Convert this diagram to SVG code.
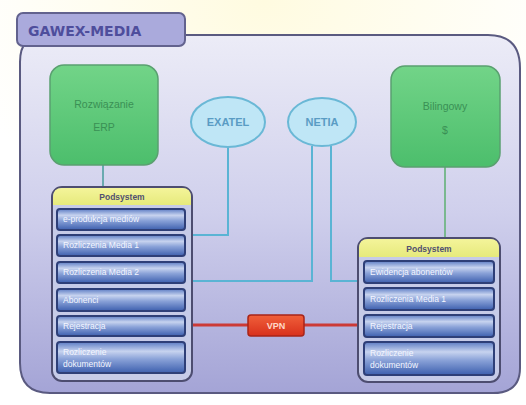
<svg xmlns="http://www.w3.org/2000/svg" width="526" height="405" viewBox="0 0 526 405">
<defs>
<linearGradient id="bg" x1="0" y1="0" x2="0" y2="1">
<stop offset="0" stop-color="#ececf7"/><stop offset="0.5" stop-color="#cfcfec"/><stop offset="1" stop-color="#a4a4d6"/>
</linearGradient>
<linearGradient id="green" x1="0" y1="0" x2="0" y2="1">
<stop offset="0" stop-color="#72d488"/><stop offset="1" stop-color="#4cbe6c"/>
</linearGradient>
<linearGradient id="item" x1="0" y1="0" x2="0" y2="1">
<stop offset="0" stop-color="#5c7cc4"/><stop offset="0.3" stop-color="#c7d3ef"/><stop offset="0.55" stop-color="#8aa2d8"/><stop offset="1" stop-color="#3d5fae"/>
</linearGradient>
<linearGradient id="hdr" x1="0" y1="0" x2="0" y2="1">
<stop offset="0" stop-color="#f4f49a"/><stop offset="1" stop-color="#e6ea7c"/>
</linearGradient>
<linearGradient id="red" x1="0" y1="0" x2="0" y2="1">
<stop offset="0" stop-color="#f0603a"/><stop offset="1" stop-color="#d8301c"/>
</linearGradient>
<radialGradient id="glow" cx="0.5" cy="0" r="0.6">
<stop offset="0" stop-color="#fffbe0"/><stop offset="1" stop-color="#ffffff"/>
</radialGradient>
</defs>
<style>
.item{fill:url(#item);stroke:#2e3f78;stroke-width:2}
.itxt{font-family:"Liberation Sans",Arial,sans-serif;font-size:8.5px;fill:#f4f6ff}
.panel{fill:#c6cbe8;stroke:#4d4d70;stroke-width:2}
.hdrt{font-family:"Liberation Sans",Arial,sans-serif;font-size:8.5px;font-weight:bold;fill:#505070;text-anchor:middle}
.gbox{fill:url(#green);stroke:#5aa070;stroke-width:1.5}
.gtxt{font-family:"Liberation Sans",Arial,sans-serif;font-size:10.5px;fill:#3a9055;text-anchor:middle}
.ell{fill:#bfe6f6;stroke:#6ab8d6;stroke-width:2}
.etxt{font-family:"Liberation Sans",Arial,sans-serif;font-size:11px;font-weight:bold;fill:#5a9cc4;text-anchor:middle}
.blue{fill:none;stroke:#5ab4d4;stroke-width:2}
</style>
<rect width="526" height="405" fill="url(#glow)"/>
<path d="M20,62 Q20,35 45,35 L488,35 Q520,35 520,68 L520,368 Q520,393 493,393 L50,393 Q20,393 20,363 Z" fill="url(#bg)" stroke="#5a5a80" stroke-width="2"/>
<g id="title">
<rect x="17" y="13" width="168" height="33" rx="6" fill="#aaaadc" stroke="#62628e" stroke-width="2"/>
<text x="28" y="36" font-family="DejaVu Sans,Verdana,sans-serif" font-size="14" font-weight="bold" fill="#4e4e9c">GAWEX-MEDIA</text>
</g>
<g id="connectors">
<line x1="103" y1="165" x2="103" y2="187" stroke="#6aaab0" stroke-width="2"/>
<line x1="445" y1="167" x2="445" y2="238" stroke="#7ab890" stroke-width="2"/>
<polyline class="blue" points="228,147 228,235 193,235"/>
<polyline class="blue" points="312,146 312,281 193,281"/>
<polyline class="blue" points="331,146 331,281 358,281"/>
<line x1="193" y1="325" x2="358" y2="325" stroke="#cc3a36" stroke-width="3"/>
</g>
<g id="erp">
<rect class="gbox" x="50" y="65" width="108" height="100" rx="14"/>
<text class="gtxt" x="104" y="108">Rozwiązanie</text>
<text class="gtxt" x="104" y="131">ERP</text>
</g>
<g id="billing">
<rect class="gbox" x="391" y="66" width="109" height="101" rx="14"/>
<text class="gtxt" x="445" y="110">Bilingowy</text>
<text class="gtxt" x="445" y="134">$</text>
</g>
<g id="exatel">
<ellipse class="ell" cx="228" cy="122" rx="37" ry="25"/>
<text class="etxt" x="228" y="126">EXATEL</text>
</g>
<g id="netia">
<ellipse class="ell" cx="322" cy="122" rx="34" ry="24"/>
<text class="etxt" x="322" y="126">NETIA</text>
</g>
<g id="left-panel">
<rect class="panel" x="52" y="187" width="140" height="194" rx="10"/>
<path d="M53,205 L53,197 Q53,188 62,188 L182,188 Q191,188 191,197 L191,205 Z" fill="url(#hdr)"/>
<text class="hdrt" x="122" y="200">Podsystem</text>
<rect class="item" x="57" y="209" width="128" height="21" rx="3"/>
<text class="itxt" x="63" y="222">e-produkcja mediów</text>
<rect class="item" x="57" y="235" width="128" height="21" rx="3"/>
<text class="itxt" x="63" y="248">Rozliczenia Media 1</text>
<rect class="item" x="57" y="262" width="128" height="21" rx="3"/>
<text class="itxt" x="63" y="275">Rozliczenia Media 2</text>
<rect class="item" x="57" y="289" width="128" height="22" rx="3"/>
<text class="itxt" x="63" y="303">Abonenci</text>
<rect class="item" x="57" y="316" width="128" height="20" rx="3"/>
<text class="itxt" x="63" y="329">Rejestracja</text>
<rect class="item" x="57" y="342" width="128" height="31" rx="3"/>
<text class="itxt" x="63" y="355">Rozliczenie</text>
<text class="itxt" x="63" y="367">dokumentów</text>
</g>
<g id="right-panel">
<rect class="panel" x="358" y="238" width="142" height="144" rx="10"/>
<path d="M359,257 L359,248 Q359,239 368,239 L490,239 Q499,239 499,248 L499,257 Z" fill="url(#hdr)"/>
<text class="hdrt" x="429" y="252">Podsystem</text>
<rect class="item" x="364" y="261" width="130" height="22" rx="3"/>
<text class="itxt" x="370" y="275">Ewidencja abonentów</text>
<rect class="item" x="364" y="288" width="130" height="22" rx="3"/>
<text class="itxt" x="370" y="302">Rozliczenia Media 1</text>
<rect class="item" x="364" y="315" width="130" height="22" rx="3"/>
<text class="itxt" x="370" y="329">Rejestracja</text>
<rect class="item" x="364" y="342" width="130" height="33" rx="3"/>
<text class="itxt" x="370" y="356">Rozliczenie</text>
<text class="itxt" x="370" y="368">dokumentów</text>
</g>
<g id="vpn">
<rect x="248" y="315" width="56" height="21" rx="3" fill="url(#red)" stroke="#a82418" stroke-width="1.5"/>
<text x="276" y="329" font-family="Liberation Sans,Arial,sans-serif" font-size="9" font-weight="bold" fill="#ffd8c8" text-anchor="middle">VPN</text>
</g>
</svg>
